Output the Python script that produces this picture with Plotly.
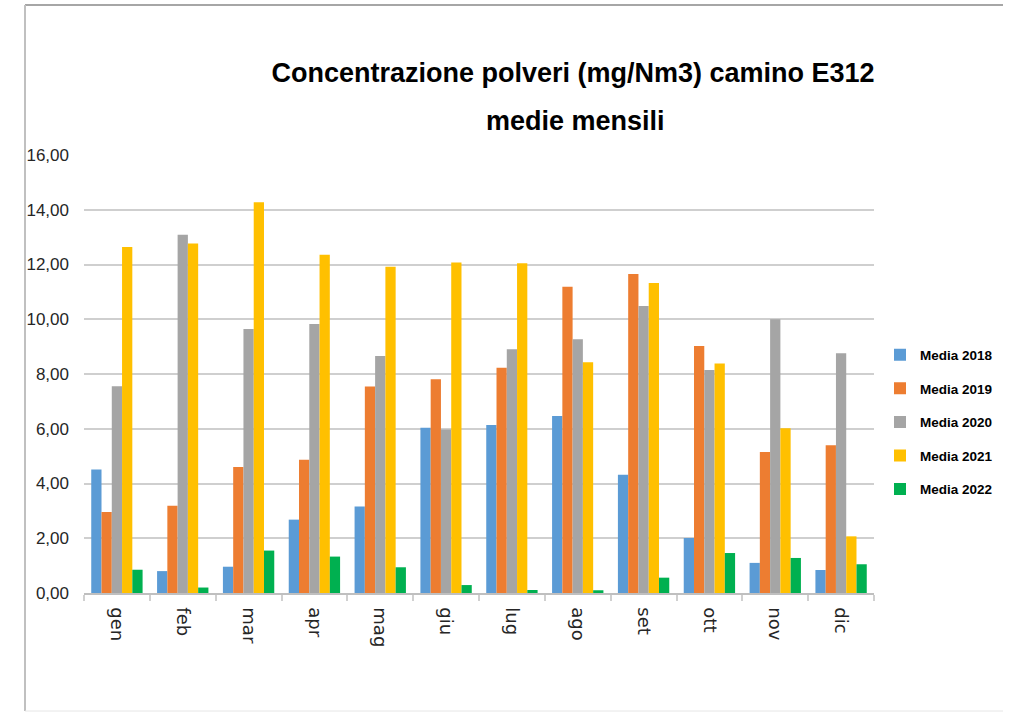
import plotly.graph_objects as go

# Monthly average dust concentration at stack E312 (mg/Nm3)
mesi = ["gen", "feb", "mar", "apr", "mag", "giu", "lug", "ago", "set", "ott", "nov", "dic"]

media_2018 = [4.51, 0.80, 0.96, 2.68, 3.16, 6.04, 6.14, 6.47, 4.32, 2.01, 1.10, 0.84]
media_2019 = [2.96, 3.19, 4.60, 4.87, 7.54, 7.81, 8.23, 11.19, 11.65, 9.02, 5.15, 5.40]
media_2020 = [7.55, 13.09, 9.64, 9.83, 8.66, 5.97, 8.90, 9.27, 10.48, 8.15, 10.00, 8.76]
media_2021 = [12.64, 12.77, 14.27, 12.36, 11.92, 12.07, 12.05, 8.43, 11.32, 8.38, 6.02, 2.07]
media_2022 = [0.85, 0.20, 1.55, 1.33, 0.94, 0.29, 0.11, 0.10, 0.56, 1.46, 1.28, 1.05]

serie = [
    ("Media 2018", media_2018, "#5B9BD5"),
    ("Media 2019", media_2019, "#ED7D31"),
    ("Media 2020", media_2020, "#A5A5A5"),
    ("Media 2021", media_2021, "#FFC000"),
    ("Media 2022", media_2022, "#00B050"),
]

W, H = 1014, 713
ML, MR, MT, MB = 84, 140, 155, 120
PW = W - ML - MR
PH = H - MT - MB


def px_x(px):
    return (px - ML) / PW


def px_y(py):
    return (H - MB - py) / PH


fig = go.Figure()
for i, (nome, valori, colore) in enumerate(serie):
    fig.add_trace(go.Bar(
        x=mesi, y=valori, name="<b>" + nome + "</b>",
        marker=dict(color=colore, line=dict(width=0)),
        legendgroup=str(i),
    ))

# outer chart frame (top and left edges darker, bottom faint)
frame = [
    dict(x0=px_x(25), x1=px_x(1003), y0=px_y(5), y1=px_y(5), color="#a6a6a6", w=2),
    dict(x0=px_x(25), x1=px_x(25), y0=px_y(5), y1=px_y(711), color="#c0c0c0", w=2),
    dict(x0=px_x(25), x1=px_x(1003), y0=px_y(711), y1=px_y(711), color="#e6e6e6", w=1),
]
shapes = [
    dict(type="line", xref="paper", yref="paper", x0=f["x0"], x1=f["x1"],
         y0=f["y0"], y1=f["y1"], line=dict(color=f["color"], width=f["w"]))
    for f in frame
]

fig.update_layout(
    width=W, height=H,
    margin=dict(l=ML, r=MR, t=MT, b=MB),
    paper_bgcolor="white", plot_bgcolor="white",
    barmode="group", bargap=0.22, bargroupgap=0,
    separators=",.",
    font=dict(family="Liberation Sans, Arial, sans-serif", color="#000000"),
    title=dict(
        text="<b>Concentrazione polveri (mg/Nm3) camino E312</b>",
        x=px_x(573), xref="paper", xanchor="center",
        y=1 - 73 / H, yref="container", yanchor="middle",
        font=dict(size=27, family="Liberation Sans, Arial, sans-serif", color="#000000"),
    ),
    annotations=[dict(
        text="<b>medie mensili</b>", xref="paper", yref="paper",
        x=px_x(575), y=px_y(121), xanchor="center", yanchor="middle",
        showarrow=False,
        font=dict(size=27, family="Liberation Sans, Arial, sans-serif", color="#000000"),
    )],
    shapes=shapes,
    legend=dict(
        x=px_x(880), y=px_y(422), xanchor="left", yanchor="middle",
        traceorder="grouped", tracegroupgap=13,
        font=dict(size=13.5, family="Liberation Sans, Arial, sans-serif", color="#000000"),
        itemwidth=30, bgcolor="rgba(0,0,0,0)",
    ),
    xaxis=dict(
        type="category", tickangle=90,
        showline=True, linecolor="#bfbfbf", linewidth=1.5,
        ticks="outside", tickson="boundaries", ticklen=6, tickcolor="#d0d0d0", tickwidth=1.5,
        tickfont=dict(size=18, family="DejaVu Sans, sans-serif", color="#262626"),
        ticklabelstandoff=9,
        showgrid=False,
    ),
    yaxis=dict(
        range=[0, 16], dtick=2, tickformat=".2f",
        showgrid=True, gridcolor="#cfcfcf", gridwidth=1.5,
        zeroline=False, showline=False, ticks="",
        tickfont=dict(size=17, family="Liberation Sans, Arial, sans-serif", color="#262626"),
        ticklabelstandoff=14,
    ),
)

fig.write_html("out.html")
